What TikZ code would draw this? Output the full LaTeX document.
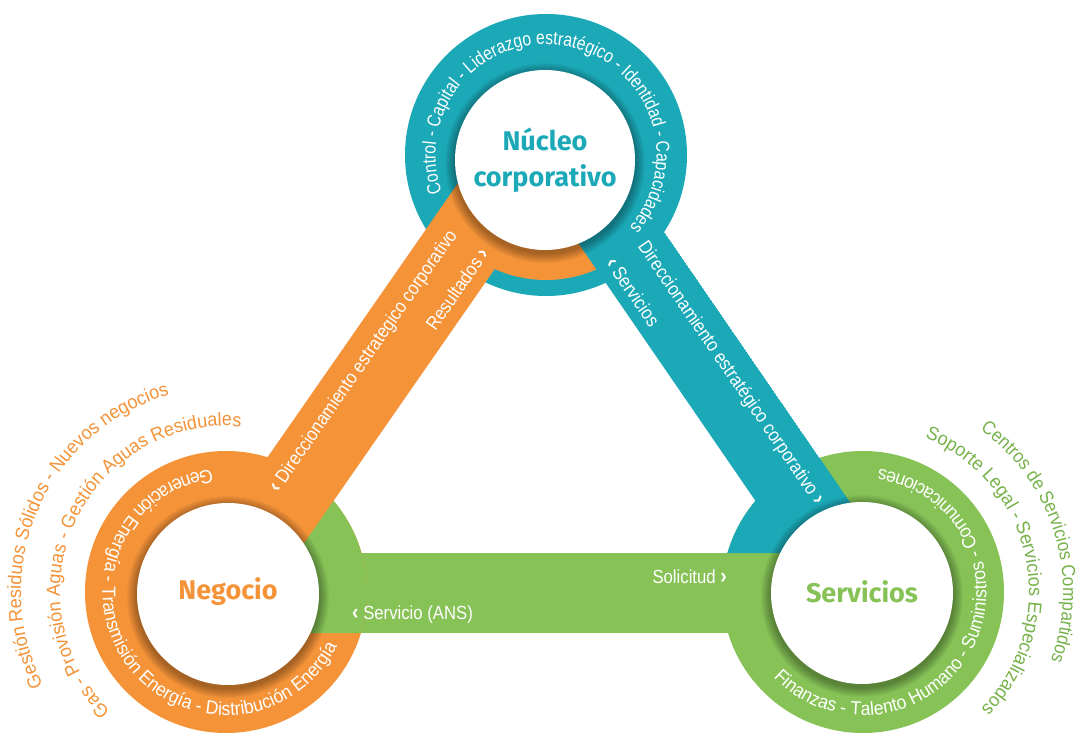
\documentclass[tikz,border=0pt]{standalone}
\usepackage{fontspec}
\setmainfont{Liberation Sans}
\newfontfamily\ftop[FakeStretch=0.83]{Liberation Sans}
\newfontfamily\fring[FakeStretch=0.93]{Liberation Sans}
\newfontfamily\fout[FakeStretch=0.95]{Liberation Sans}
\newfontfamily\foutb[FakeStretch=0.9]{Liberation Sans}
\newfontfamily\fstrip[FakeStretch=0.88]{Liberation Sans}
\newfontfamily\ftitle{Fira Sans}
\newcommand{\chl}{{\bfseries\fontsize{22}{19}\selectfont ‹}}
\newcommand{\chr}{{\bfseries\fontsize{22}{19}\selectfont ›}}
\usetikzlibrary{decorations.text}
\definecolor{cTeal}{HTML}{1BA9B8}
\definecolor{cOrange}{HTML}{F49338}
\definecolor{cGreen}{HTML}{86C256}
\definecolor{cGreenTxt}{HTML}{76B24A}
\begin{document}
\begin{tikzpicture}[x=1pt,y=1pt,
  title/.style={font=\ftitle\bfseries\fontsize{27}{36}\selectfont, align=center, inner sep=0pt},
  striptext/.style={text=white, font=\fstrip\fontsize{19}{19}\selectfont, inner sep=0pt}]
\useasboundingbox (0,0) rectangle (1076,732);
\fill[white] (0,0) rectangle (1076,732);

% green band between Negocio and Servicios
\fill[cGreen] (226,99) rectangle (863,179);
% ring disks
\fill[cTeal] (546,577) circle[radius=141];
\fill[cOrange] (226,140) circle[radius=141];
\fill[cGreen] (863,140) circle[radius=141];
% orange strip
\fill[cOrange] (502,612) -- (598.3,612) -- (229.9,82) -- (133.5,82) -- cycle;
\begin{scope}
  \clip (546,577) circle[radius=125];
  \fill[cOrange] (498,606) -- (327,360) -- (668,359) -- cycle;
\end{scope}
% green part inside the Negocio ring
\begin{scope}
  \clip (226,140) circle[radius=141];
  \fill[cGreen] (241.7,99) -- (403.7,332) -- (500,332) -- (500,99) -- cycle;
\end{scope}
% teal strip and teal part inside the Servicios ring
\begin{scope}
  \clip (884.7,179) -- (573.5,632) -- (300,632) -- (300,179) -- cycle;
  \fill[cTeal] (548.8,532) -- (642.2,532) -- (951.3,82) -- (857.9,82) -- cycle;
  \fill[cTeal] (863,140) circle[radius=141];
\end{scope}
% shadows and white discs
\foreach \cx/\cy/\r in {545/572/90, 228/138/91, 862/139/91} {
  \foreach \i in {1,...,10} {
    \fill[black, opacity=0.037] (\cx,\cy-3) circle[radius=\r+\i];
  }
  \fill[white] (\cx,\cy) circle[radius=\r];
}

% titles
\node[title, text=cTeal] (nucleo) at (545,572) {Núcleo\\corporativo};
\node[title, text=cOrange] (negocio) at (228,140) {Negocio};
\node[title, text=cGreen] (servicios) at (862,140) {Servicios};

% strip texts
\node[striptext, rotate=55.2] (dirA) at (364,370.5) {\chl\ Direccionamiento estrategico corporativo};
\node[striptext, rotate=55.2] (resul) at (457,443) {Resultados \chr};
\node[striptext, rotate=-55.5] (dirB) at (730.5,358.5) {Direccionamiento estratégico corporativo \chr};
\node[striptext, rotate=-55.5] (servs) at (633,440) {\chl\ Servicios};
\node[striptext, anchor=east] (solic) at (727,155) {Solicitud \chr};
\node[striptext, anchor=west] (ans) at (352,117) {\chl\ Servicio (ANS)};

% ring texts
\path[decorate, decoration={text along path, text align=center,
  text={|\ftop\fontsize{19}{19}\selectfont\color{white}|Control - Capital - Liderazgo estratégico - Identidad - Capacidades}}]
  (546,577) ++(229.4:110.5) arc[start angle=229.4, end angle=-70.6, radius=110.5];
\path[decorate, decoration={text along path, text align=center,
  text={|\fring\fontsize{19}{19}\selectfont\color{white}|Generación Energía - Transmisión Energía - Distribución Energía}}]
  (226,140) ++(65.4:123.5) arc[start angle=65.4, end angle=365.4, radius=123.5];
\path[decorate, decoration={text along path, text align=center,
  text={|\fring\fontsize{19}{19}\selectfont\color{white}|Finanzas - Talento Humano - Suministros - Comunicaciones}}]
  (863,140) ++(183:123.5) arc[start angle=183, end angle=483, radius=123.5];

% outer texts
\path[decorate, decoration={text along path, text align=center,
  text={|\fout\fontsize{19}{19}\selectfont\color{cOrange}|Gas - Provisión Aguas - Gestión Aguas Residuales}}]
  (226,140) ++(245.3:166) arc[start angle=245.3, end angle=65.3, radius=166];
\path[decorate, decoration={text along path, text align=center,
  text={|\fout\fontsize{19}{19}\selectfont\color{cOrange}|Gestión Residuos Sólidos - Nuevos negocios}}]
  (226,140) ++(246.5:205) arc[start angle=246.5, end angle=66.5, radius=205];
\path[decorate, decoration={text along path, text align=center,
  text={|\fout\fontsize{19}{19}\selectfont\color{cGreenTxt}|Soporte Legal - Servicios Especializados}}]
  (863,140) ++(101.7:166) arc[start angle=101.7, end angle=-78.3, radius=166];
\path[decorate, decoration={text along path, text align=center,
  text={|\foutb\fontsize{19}{19}\selectfont\color{cGreenTxt}|Centros de Servicios Compartidos}}]
  (863,140) ++(107:200) arc[start angle=107, end angle=-73, radius=200];
\end{tikzpicture}
\end{document}
